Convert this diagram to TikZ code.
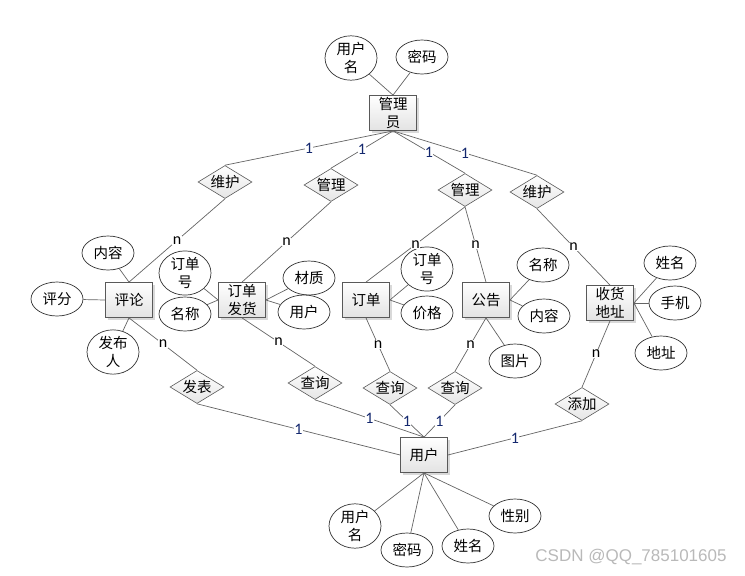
\documentclass[tikz,border=0pt]{standalone}
\usepackage{fontspec}
\setmainfont{Noto Sans CJK SC}
\newfontfamily\labfont{Carlito}
\newfontfamily\markfont{Liberation Sans}
\usetikzlibrary{shapes.geometric,shadows}
\definecolor{linegray}{RGB}{100,100,100}
\definecolor{onecol}{RGB}{20,40,110}

\begin{document}
\begin{tikzpicture}[x=1pt,y=-1pt,
    font=\fontsize{14.5}{18}\selectfont,
    entity/.style={draw=gray!70!black, line width=0.8pt, rectangle, minimum width=47pt, minimum height=35pt, inner sep=0.5pt, align=center, top color=white, bottom color=gray!22, drop shadow={opacity=0.3, shadow xshift=2pt, shadow yshift=-2pt}},
    rel/.style={draw=gray!70!black, line width=0.6pt, diamond, aspect=1.8, minimum width=54pt, minimum height=33pt, inner sep=0pt, top color=white, bottom color=gray!20},
    attr/.style={draw=black!80, line width=0.7pt, ellipse, minimum width=52pt, minimum height=34pt, inner sep=0pt, align=center, fill=white},
    link/.style={draw=linegray, line width=0.7pt},
    one/.style={midway, fill=white, inner sep=0.3pt, text=onecol, font=\labfont\fontsize{16}{16}\selectfont},
    many/.style={midway, fill=white, inner sep=0.3pt, text=black, font=\labfont\fontsize{16}{16}\selectfont}]
    \useasboundingbox (0,0) rectangle (745,576);

    % entities
    \node[entity] (admin) at (393,113) {管理\\员};
    \node[entity] (review) at (129,300) {评论};
    \node[entity] (shipment) at (242,300) {订单\\发货};
    \node[entity] (order) at (366,300) {订单};
    \node[entity] (notice) at (486,300) {公告};
    \node[entity] (address) at (610,303) {收货\\地址};
    \node[entity] (user) at (424,455) {用户};

    % relationships
    \node[rel] (keepL) at (225,182) {维护};
    \node[rel] (manageL) at (331,185) {管理};
    \node[rel] (manageR) at (465,190) {管理};
    \node[rel] (keepR) at (537,192) {维护};
    \node[rel] (publish) at (197,387) {发表};
    \node[rel] (querya) at (315,383) {查询};
    \node[rel] (queryb) at (390,388) {查询};
    \node[rel] (queryc) at (455,388) {查询};
    \node[rel] (addrel) at (582,404) {添加};

    % attributes
    \node[attr] (adminName) at (351,58) {用户\\名};
    \node[attr] (adminPwd) at (422,57) {密码};
    \node[attr] (reviewText) at (108,253) {内容};
    \node[attr] (reviewScore) at (57,299) {评分};
    \node[attr] (reviewAuthor) at (113,352) {发布\\人};
    \node[attr] (shipNo) at (185,273) {订单\\号};
    \node[attr] (shipName) at (185,314) {名称};
    \node[attr] (shipMat) at (309,278) {材质};
    \node[attr] (shipUser) at (304,312) {用户};
    \node[attr] (orderNo) at (427,269) {订单\\号};
    \node[attr] (orderPrice) at (427,313) {价格};
    \node[attr] (noticeName) at (543,265) {名称};
    \node[attr] (noticeText) at (544,316) {内容};
    \node[attr] (noticePic) at (515,361) {图片};
    \node[attr] (addrName) at (670,263) {姓名};
    \node[attr] (addrPhone) at (675,303) {手机};
    \node[attr] (addrPlace) at (661,353) {地址};
    \node[attr] (userName) at (355,526) {用户\\名};
    \node[attr] (userPwd) at (407,550) {密码};
    \node[attr] (userReal) at (468,546) {姓名};
    \node[attr] (userSex) at (515,516) {性别};

    % attribute links
    \foreach \a in {adminName,adminPwd} \draw[link] (admin.north) -- (\a);
    \draw[link] (review.north) -- (reviewText);
    \draw[link] (review.west) -- (reviewScore);
    \draw[link] (review.south) -- (reviewAuthor);
    \foreach \a in {shipNo,shipName} \draw[link] (shipment.west) -- (\a);
    \foreach \a in {shipMat,shipUser} \draw[link] (shipment.east) -- (\a);
    \foreach \a in {orderNo,orderPrice} \draw[link] (order.east) -- (\a);
    \foreach \a in {noticeName,noticeText} \draw[link] (notice.east) -- (\a);
    \draw[link] (notice.south) -- (noticePic);
    \foreach \a in {addrName,addrPhone,addrPlace} \draw[link] (address.east) -- (\a);
    \foreach \a in {userName,userPwd,userReal,userSex} \draw[link] (user.south) -- (\a);

    % admin side
    \draw[link] (admin.south) -- node[one] {1} (keepL.north);
    \draw[link] (admin.south) -- node[one] {1} (manageL.north);
    \draw[link] (admin.south) -- node[one] {1} (manageR.north);
    \draw[link] (admin.south) -- node[one] {1} (keepR.north);
    \draw[link] (keepL.south) -- node[many] {n} (review.north);
    \draw[link] (manageL.south) -- node[many] {n} (shipment.north);
    \draw[link] (manageR.south) -- node[many] {n} (order.north);
    \draw[link] (manageR.south) -- node[many] {n} (notice.north);
    \draw[link] (keepR.south) -- node[many] {n} (address.north);

    % user side
    \draw[link] (review.south) -- node[many] {n} (publish.north);
    \draw[link] (shipment.south) -- node[many] {n} (querya.north);
    \draw[link] (order.south) -- node[many] {n} (queryb.north);
    \draw[link] (notice.south) -- node[many] {n} (queryc.north);
    \draw[link] (address.south) -- node[many] {n} (addrel.north);
    \draw[link] (publish.south) -- node[one] {1} (user.west);
    \draw[link] (querya.south) -- node[one] {1} (user.north);
    \draw[link] (queryb.south) -- node[one] {1} (user.north);
    \draw[link] (queryc.south) -- node[one] {1} (user.north);
    \draw[link] (addrel.south) -- node[one] {1} (user.east);

    \node[text=gray!55, font=\markfont\fontsize{17}{17}\selectfont] (mark) at (631,557) {CSDN @QQ\_785101605};
\end{tikzpicture}
\end{document}
